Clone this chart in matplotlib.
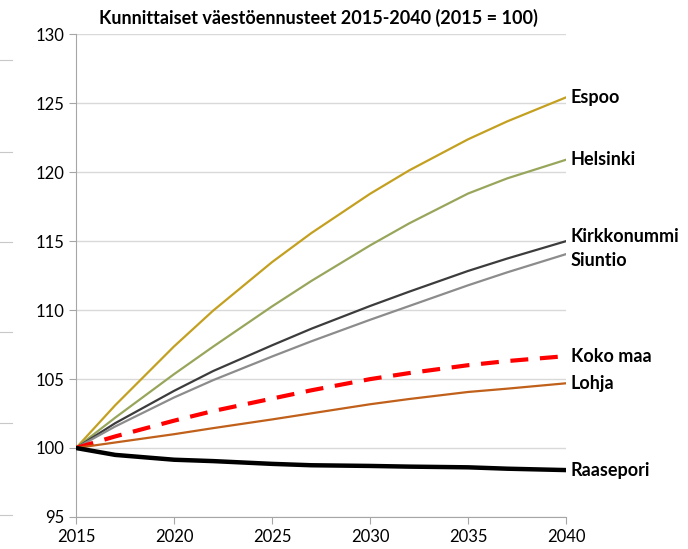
import matplotlib.pyplot as plt
from matplotlib.lines import Line2D

plt.rcParams['font.family'] = ['Lato', 'DejaVu Sans']

# Vuodet ja indeksit (2015 = 100), luettu kuvasta
years = [2015, 2017, 2020, 2022, 2025, 2027, 2030, 2032, 2035, 2037, 2040]
espoo = [100, 103.1, 107.36, 109.96, 113.47, 115.57, 118.42, 120.12, 122.37, 123.67, 125.41]
helsinki = [100, 102.2, 105.35, 107.35, 110.26, 112.1, 114.68, 116.28, 118.44, 119.54, 120.89]
kirkkonummi = [100, 101.8, 104.14, 105.58, 107.44, 108.64, 110.29, 111.33, 112.83, 113.73, 114.99]
siuntio = [100, 101.56, 103.66, 104.92, 106.63, 107.73, 109.29, 110.29, 111.79, 112.73, 114.05]
koko_maa = [100, 100.84, 101.98, 102.68, 103.58, 104.18, 104.99, 105.43, 106.0, 106.3, 106.66]
lohja = [100, 100.4, 101.0, 101.44, 102.07, 102.51, 103.17, 103.55, 104.06, 104.3, 104.69]
raasepori = [100, 99.5, 99.15, 99.05, 98.85, 98.75, 98.7, 98.65, 98.6, 98.5, 98.4]

series = [
    ("Espoo", espoo, "#C4A020", "-", 1.6, 0),
    ("Helsinki", helsinki, "#98A65C", "-", 1.6, 0),
    ("Kirkkonummi", kirkkonummi, "#3C3C3C", "-", 1.6, 0.35),
    ("Siuntio", siuntio, "#8C8C8C", "-", 1.6, -0.45),
    ("Koko maa", koko_maa, "#FF0000", (0, (4.3, 2.8)), 3.0, 0),
    ("Lohja", lohja, "#C0601A", "-", 1.6, 0),
    ("Raasepori", raasepori, "#000000", "-", 3.2, 0),
]

fig = plt.figure(figsize=(6.88, 5.49), dpi=100)
ax = fig.add_axes([0.1105, 0.0583, 0.7122, 0.8797])

for name, vals, col, ls, lw, dy in series:
    ax.plot(years, vals, color=col, linestyle=ls, linewidth=lw, zorder=3)
    ax.text(2040.25, vals[-1] + dy, name, fontsize=13, fontweight='bold',
            va='center', ha='left', color='black')

ax.set_xlim(2015, 2040)
ax.set_ylim(95, 130)
ax.set_xticks(range(2015, 2041, 5))
ax.set_yticks(range(95, 131, 5))
ax.grid(axis='y', color='#D9D9D9', linewidth=1)
ax.set_axisbelow(True)
for s in ['top', 'right']:
    ax.spines[s].set_visible(False)
for s in ['left', 'bottom']:
    ax.spines[s].set_color('#A6A6A6')
ax.tick_params(axis='both', colors='#A6A6A6', labelcolor='black',
               labelsize=12, length=5, direction='out')

fig.text(0.463, 0.968, "Kunnittaiset väestöennusteet 2015-2040 (2015 = 100)",
         ha='center', va='center', fontsize=13, fontweight='bold')

# haaleat reunaviivat vasemmassa laidassa (skannausjäänteet)
for yy in [0.891, 0.723, 0.559, 0.395, 0.229, 0.062]:
    fig.add_artist(Line2D([0, 0.017], [yy, yy], color='#C8C8C8', lw=0.8))

fig.savefig("out.png", dpi=100)
